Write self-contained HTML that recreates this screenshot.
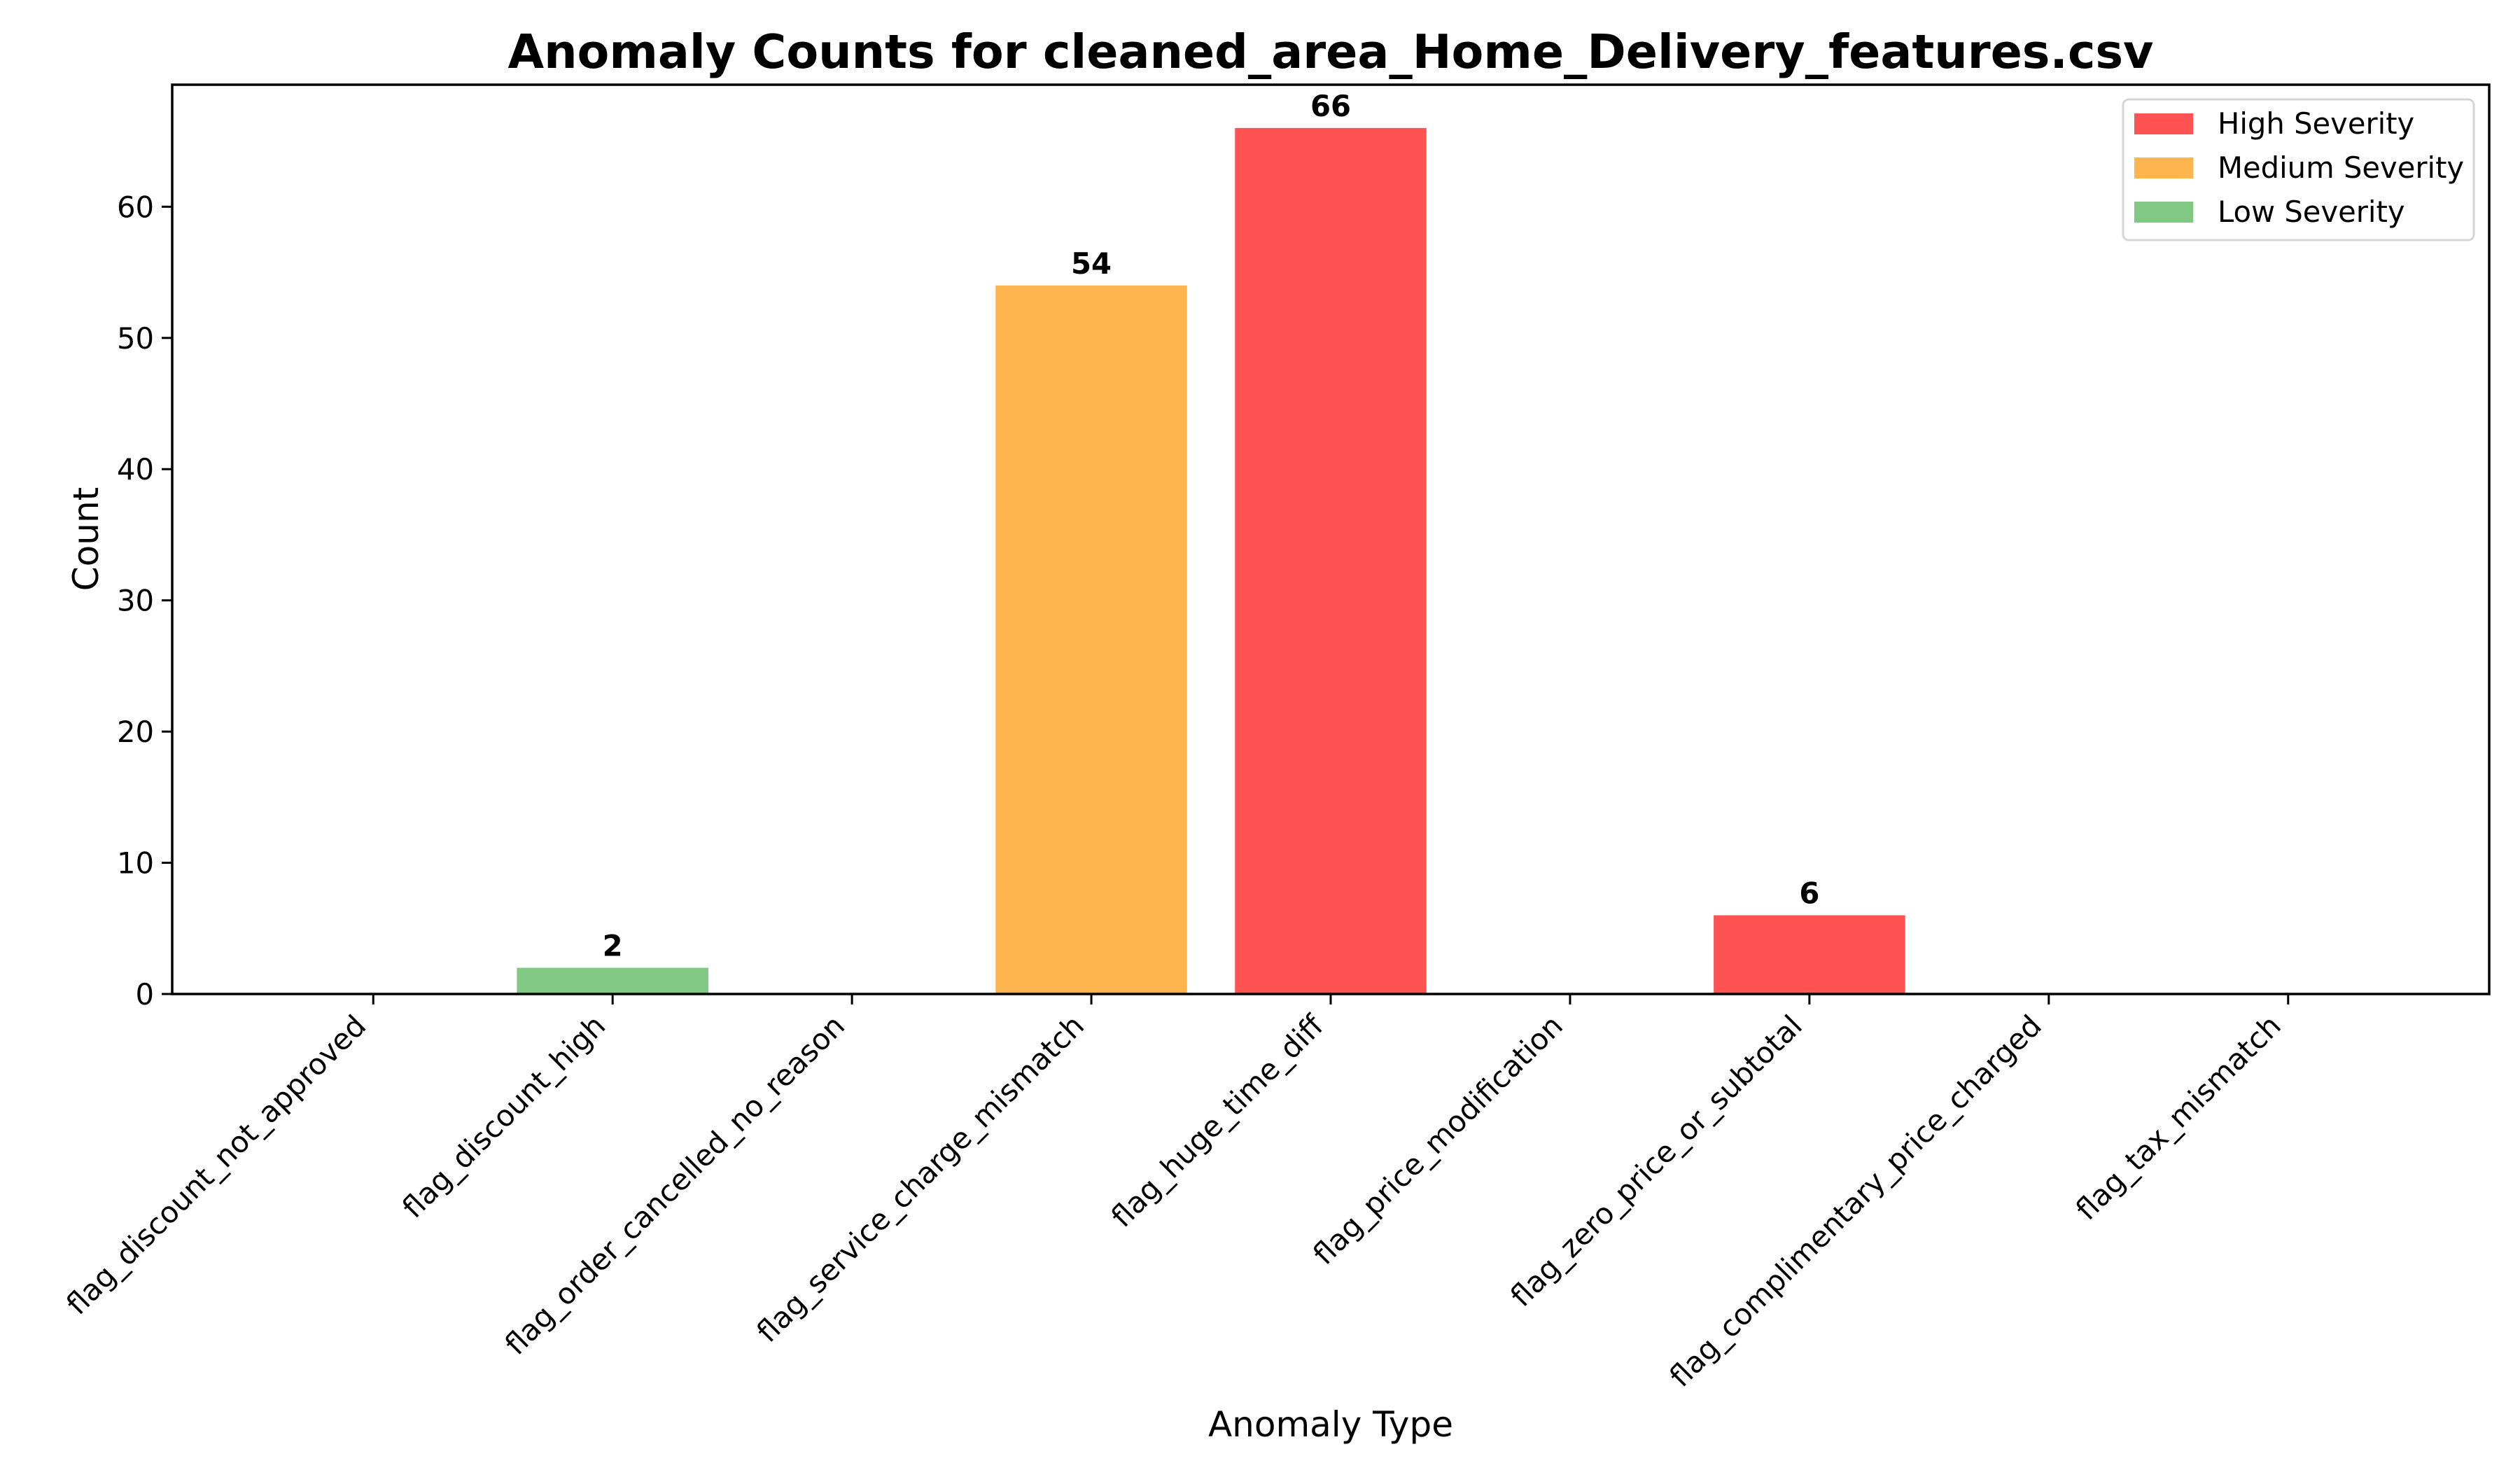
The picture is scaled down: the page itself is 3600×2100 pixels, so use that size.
<!DOCTYPE html>
<html><head><meta charset="utf-8"><style>
html,body{margin:0;padding:0;background:#fff;}
svg{display:block;font-family:"DejaVu Sans","Liberation Sans",sans-serif;}
</style></head><body>
<svg id="chart" width="3600" height="2100" viewBox="0 0 3600 2100" xmlns="http://www.w3.org/2000/svg">
<rect width="3600" height="2100" fill="#fff"/>
<text x="1901" y="97" text-anchor="middle" font-size="66.7" font-weight="bold">Anomaly Counts for cleaned_area_Home_Delivery_features.csv</text>
<g id="bars"></g>
<g id="axes"></g>
<text x="1901" y="2052" text-anchor="middle" font-size="50">Anomaly Type</text>
<text transform="translate(140,770) rotate(-90)" text-anchor="middle" font-size="50">Count</text>
<g>
<rect x="3033" y="142" width="501" height="201" rx="8" fill="#fff" fill-opacity="0.8" stroke="#d6d6d6" stroke-width="3"/>
<g><rect x="3049" y="162" width="84" height="30" fill="#ff5353"/><text x="3168" y="191" font-size="41.7">High Severity</text></g>
<g><rect x="3049" y="225" width="84" height="30" fill="#ffb54f"/><text x="3168" y="254" font-size="41.7">Medium Severity</text></g>
<g><rect x="3049" y="288" width="84" height="30" fill="#81c884"/><text x="3168" y="317" font-size="41.7">Low Severity</text></g>
</g>
</svg>
<script>
const categories = ["flag_discount_not_approved","flag_discount_high","flag_order_cancelled_no_reason","flag_service_charge_mismatch","flag_huge_time_diff","flag_price_modification","flag_zero_price_or_subtotal","flag_complimentary_price_charged","flag_tax_mismatch"];
const counts = [0,2,0,54,66,0,6,0,0];
const severities = ["high","low","medium","medium","high","high","high","medium","medium"];
const yTicks = [0,10,20,30,40,50,60];

const NS="http://www.w3.org/2000/svg";
const L=246,R=3556,T=121,B=1420;
const n=categories.length;
const xMin=-0.84,xMax=n-1+0.84;
const maxV=Math.max(...counts);
const yMax=maxV*1.05;
function xs(i){return L+(i-xMin)/(xMax-xMin)*(R-L);}
function ys(v){return B-v/yMax*(B-T);}
const colors={high:"#ff5353",medium:"#ffb54f",low:"#81c884"};
const step=xs(1)-xs(0), bw=step*0.8;
function mk(tag,attrs,parent,txt){const e=document.createElementNS(NS,tag);for(const k in attrs)e.setAttribute(k,attrs[k]);if(txt!==undefined)e.textContent=txt;parent.appendChild(e);return e;}
const bars=document.getElementById('bars'), axes=document.getElementById('axes');
counts.forEach((v,i)=>{
  if(v>0){
    const r=mk('rect',{x:xs(i)-bw/2,y:ys(v),width:bw,height:B-ys(v),fill:colors[severities[i]]},bars);
    
    
    const t=mk('text',{x:xs(i),y:ys(v)-17,'text-anchor':'middle','font-size':41.7,'font-weight':'bold'},bars,String(v));
    
    
  }
});
const frame=mk('rect',{x:L,y:T,width:R-L,height:B-T,fill:'none',stroke:'#000','stroke-width':3.5},axes);


yTicks.forEach(v=>{
  const y=ys(v);
  const tl=mk('line',{x1:L-15,x2:L,y1:y,y2:y,stroke:'#000','stroke-width':3},axes);
  
  
  const tx=mk('text',{x:L-26,y:y+15,'text-anchor':'end','font-size':41.7},axes,String(v));
  
  
});
categories.forEach((c,i)=>{
  const x=xs(i);
  const tl=mk('line',{x1:x,x2:x,y1:B,y2:B+15,stroke:'#000','stroke-width':3},axes);
  
  
  const tx=mk('text',{transform:`translate(${x-8},${B+48}) rotate(-45)`,'text-anchor':'end','font-size':41.7},axes,c);
  
  
});
</script>
</body></html>
